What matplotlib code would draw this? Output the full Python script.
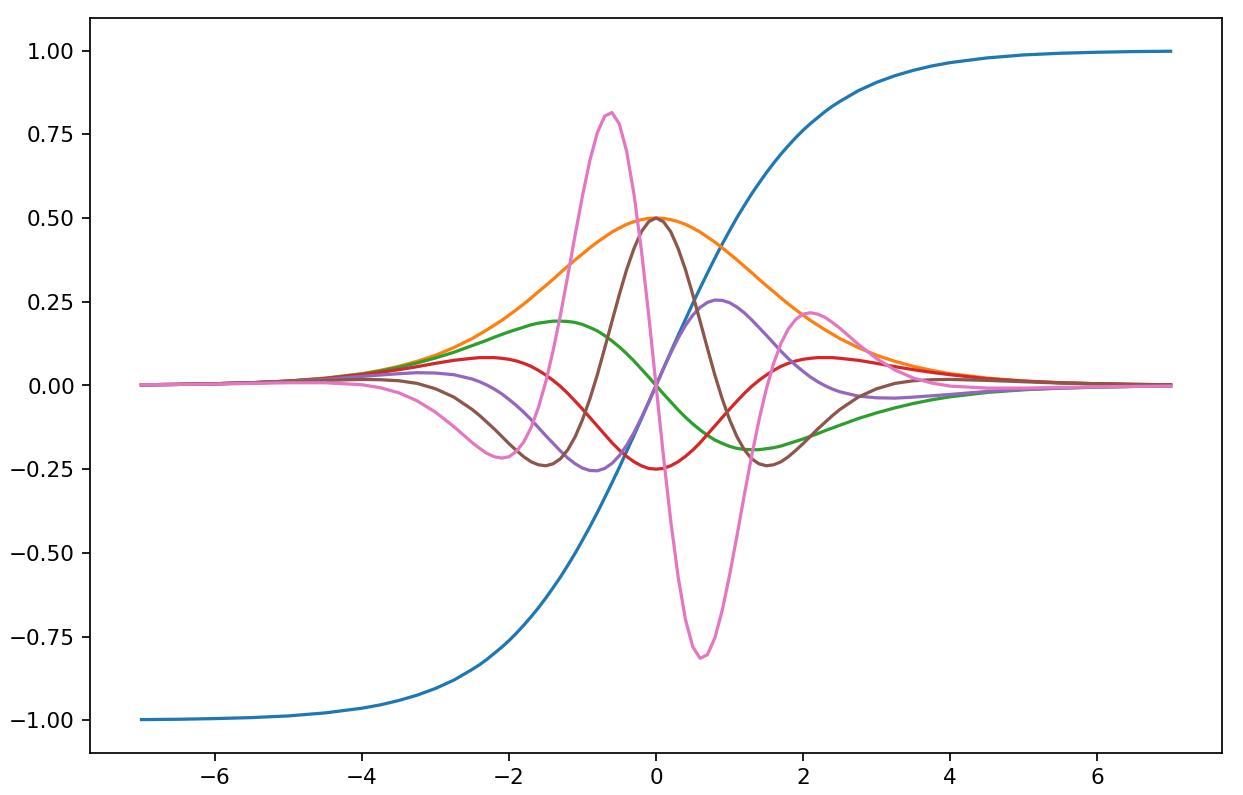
import numpy as np
import matplotlib
matplotlib.use("Agg")
import matplotlib.pyplot as plt

# x positions, right half
x_pos = [0.0, 0.1, 0.2, 0.3, 0.4, 0.5, 0.6, 0.7, 0.8, 0.9, 1.0, 1.1, 1.2, 1.3,
         1.4, 1.5, 1.6, 1.7, 1.8, 1.9, 2.0, 2.1, 2.2, 2.3, 2.4, 2.5, 2.75, 3.0,
         3.25, 3.5, 3.75, 4.0, 4.5, 5.0, 5.5, 6.0, 6.5, 7.0]
x_neg = [-7.0, -6.5, -6.0, -5.5, -5.0, -4.5, -4.0, -3.75, -3.5, -3.25, -3.0,
         -2.75, -2.5, -2.4, -2.3, -2.2, -2.1, -2.0, -1.9, -1.8, -1.7, -1.6,
         -1.5, -1.4, -1.3, -1.2, -1.1, -1.0, -0.9, -0.8, -0.7, -0.6, -0.5,
         -0.4, -0.3, -0.2, -0.1]

# blue
y0_neg = [-0.998, -0.997, -0.995, -0.992, -0.987, -0.978, -0.964, -0.954, -0.941,
          -0.925, -0.905, -0.880, -0.848, -0.834, -0.818, -0.800, -0.782, -0.762,
          -0.740, -0.716, -0.691, -0.664, -0.635, -0.604, -0.572, -0.537, -0.501,
          -0.462, -0.422, -0.380, -0.336, -0.291, -0.245, -0.197, -0.149, -0.100,
          -0.050]
y0_pos = [0.0, 0.050, 0.100, 0.149, 0.197, 0.245, 0.291, 0.336, 0.380, 0.422,
          0.462, 0.501, 0.537, 0.572, 0.604, 0.635, 0.664, 0.691, 0.716, 0.740,
          0.762, 0.782, 0.800, 0.818, 0.834, 0.848, 0.880, 0.905, 0.925, 0.941,
          0.954, 0.964, 0.978, 0.987, 0.992, 0.995, 0.997, 0.998]

# orange
y1_neg = [0.002, 0.003, 0.005, 0.008, 0.013, 0.022, 0.035, 0.045, 0.057, 0.072,
          0.090, 0.113, 0.140, 0.153, 0.166, 0.180, 0.194, 0.210, 0.226, 0.243,
          0.261, 0.280, 0.298, 0.317, 0.337, 0.356, 0.375, 0.393, 0.411, 0.428,
          0.443, 0.458, 0.470, 0.481, 0.489, 0.495, 0.499]
y1_pos = [0.500, 0.499, 0.495, 0.489, 0.481, 0.470, 0.458, 0.443, 0.428, 0.411,
          0.393, 0.375, 0.356, 0.337, 0.317, 0.298, 0.280, 0.261, 0.243, 0.226,
          0.210, 0.194, 0.180, 0.166, 0.153, 0.140, 0.113, 0.090, 0.072, 0.057,
          0.045, 0.035, 0.022, 0.013, 0.008, 0.005, 0.003, 0.002]

# green
y2_neg = [0.002, 0.003, 0.005, 0.008, 0.013, 0.021, 0.034, 0.043, 0.054, 0.067,
          0.082, 0.099, 0.119, 0.127, 0.135, 0.144, 0.152, 0.160, 0.167, 0.174,
          0.181, 0.186, 0.189, 0.192, 0.192, 0.191, 0.188, 0.182, 0.173, 0.163,
          0.149, 0.133, 0.115, 0.095, 0.073, 0.049, 0.025]
y2_pos = [0.0, -0.025, -0.049, -0.073, -0.095, -0.115, -0.133, -0.149, -0.163,
          -0.173, -0.182, -0.188, -0.191, -0.192, -0.192, -0.189, -0.186, -0.181,
          -0.174, -0.167, -0.160, -0.152, -0.144, -0.135, -0.127, -0.119, -0.099,
          -0.082, -0.067, -0.054, -0.043, -0.034, -0.021, -0.013, -0.008, -0.005,
          -0.003, -0.002]

# red
y3_neg = [0.002, 0.003, 0.005, 0.008, 0.013, 0.020, 0.032, 0.039, 0.047, 0.056,
          0.066, 0.075, 0.081, 0.083, 0.083, 0.083, 0.081, 0.078, 0.073, 0.066,
          0.057, 0.045, 0.031, 0.015, -0.003, -0.024, -0.047, -0.071, -0.096,
          -0.121, -0.146, -0.171, -0.193, -0.212, -0.228, -0.240, -0.248]
y3_pos = [-0.250, -0.248, -0.240, -0.228, -0.212, -0.193, -0.171, -0.146, -0.121,
          -0.096, -0.071, -0.047, -0.024, -0.003, 0.015, 0.031, 0.045, 0.057,
          0.066, 0.073, 0.078, 0.081, 0.083, 0.083, 0.083, 0.081, 0.075, 0.066,
          0.056, 0.047, 0.039, 0.032, 0.020, 0.013, 0.008, 0.005, 0.003, 0.002]

# purple
y4_neg = [0.002, 0.003, 0.005, 0.008, 0.012, 0.018, 0.027, 0.031, 0.035, 0.038,
          0.037, 0.032, 0.019, 0.011, 0.001, -0.011, -0.025, -0.042, -0.060,
          -0.080, -0.102, -0.126, -0.150, -0.173, -0.196, -0.217, -0.234, -0.247,
          -0.254, -0.255, -0.248, -0.233, -0.210, -0.179, -0.141, -0.097, -0.050]
y4_pos = [0.0, 0.050, 0.097, 0.141, 0.179, 0.210, 0.233, 0.248, 0.255, 0.254,
          0.247, 0.234, 0.217, 0.196, 0.173, 0.150, 0.126, 0.102, 0.080, 0.060,
          0.042, 0.025, 0.011, -0.001, -0.011, -0.019, -0.032, -0.037, -0.038,
          -0.035, -0.031, -0.027, -0.018, -0.012, -0.008, -0.005, -0.003, -0.002]

# brown
y5_neg = [0.002, 0.003, 0.005, 0.007, 0.011, 0.015, 0.018, 0.017, 0.014, 0.006,
          -0.010, -0.035, -0.072, -0.090, -0.110, -0.130, -0.152, -0.174, -0.194,
          -0.213, -0.228, -0.237, -0.240, -0.234, -0.219, -0.192, -0.153, -0.102,
          -0.040, 0.031, 0.110, 0.191, 0.271, 0.346, 0.409, 0.459, 0.489]
y5_pos = [0.500, 0.489, 0.459, 0.409, 0.346, 0.271, 0.191, 0.110, 0.031, -0.040,
          -0.102, -0.153, -0.192, -0.219, -0.234, -0.240, -0.237, -0.228, -0.213,
          -0.194, -0.174, -0.152, -0.130, -0.110, -0.090, -0.072, -0.035, -0.010,
          0.006, 0.014, 0.017, 0.018, 0.015, 0.011, 0.007, 0.005, 0.003, 0.002]

# pink
y6_neg = [0.002, 0.003, 0.004, 0.006, 0.008, 0.008, 0.002, -0.007, -0.022,
          -0.046, -0.080, -0.123, -0.171, -0.188, -0.203, -0.213, -0.217, -0.213,
          -0.197, -0.169, -0.126, -0.066, 0.011, 0.104, 0.211, 0.328, 0.450,
          0.567, 0.672, 0.754, 0.804, 0.815, 0.781, 0.699, 0.571, 0.405, 0.210]
y6_pos = [0.0, -0.210, -0.405, -0.571, -0.699, -0.781, -0.815, -0.804, -0.754,
          -0.672, -0.567, -0.450, -0.328, -0.211, -0.104, -0.011, 0.066, 0.126,
          0.169, 0.197, 0.213, 0.217, 0.213, 0.203, 0.188, 0.171, 0.123, 0.080,
          0.046, 0.022, 0.007, -0.002, -0.008, -0.008, -0.006, -0.004, -0.003,
          -0.002]

x = np.array(x_neg + x_pos)
series = [y0_neg + y0_pos, y1_neg + y1_pos, y2_neg + y2_pos, y3_neg + y3_pos,
          y4_neg + y4_pos, y5_neg + y5_pos, y6_neg + y6_pos]

fig = plt.figure(figsize=(8.02, 5.13), dpi=155)
ax = fig.add_subplot(111)
for y in series:
    ax.plot(x, y, lw=1.5)
fig.subplots_adjust(left=0.0724, right=0.9831, bottom=0.0528, top=0.9774)
fig.savefig("out.png", dpi=155)
